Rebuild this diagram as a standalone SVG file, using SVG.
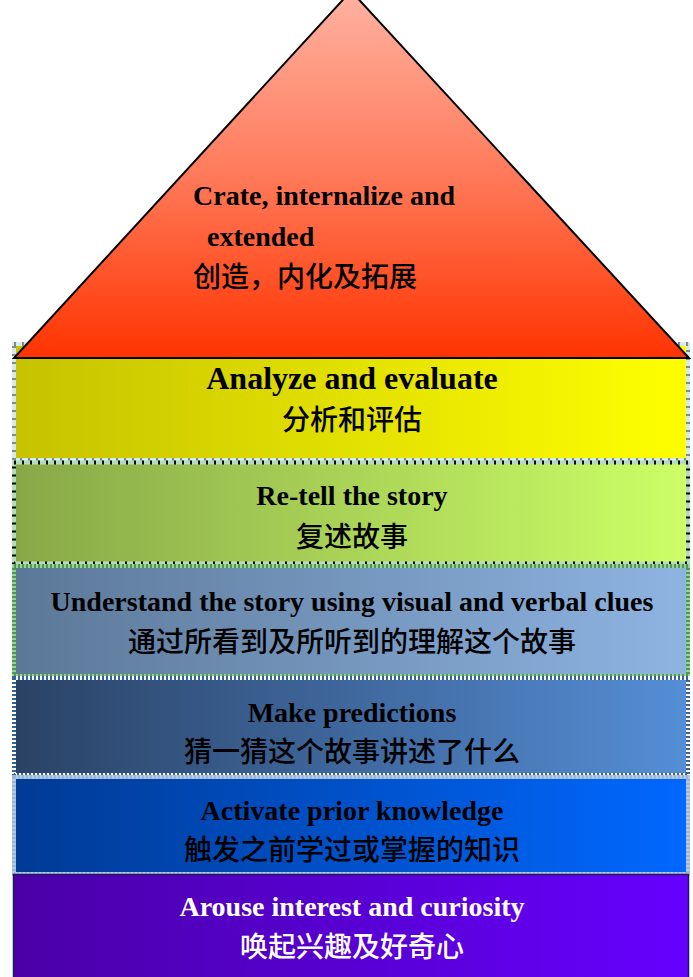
<svg xmlns="http://www.w3.org/2000/svg" width="693" height="977" viewBox="0 0 693 977">
<defs>
<linearGradient id="gTri" x1="0" y1="0" x2="0" y2="1">
<stop offset="0" stop-color="#FFB2A2"/>
<stop offset="0.5" stop-color="#FF7A5A"/>
<stop offset="1" stop-color="#FF3300"/>
</linearGradient>
<linearGradient id="g1" x1="0" y1="0" x2="1" y2="0"><stop offset="0" stop-color="#C6C200"/><stop offset="1" stop-color="#FFFF00"/></linearGradient>
<linearGradient id="g2" x1="0" y1="0" x2="1" y2="0"><stop offset="0" stop-color="#88A848"/><stop offset="1" stop-color="#CCFF66"/></linearGradient>
<linearGradient id="g3" x1="0" y1="0" x2="1" y2="0"><stop offset="0" stop-color="#5C7898"/><stop offset="1" stop-color="#8EB4E2"/></linearGradient>
<linearGradient id="g4" x1="0" y1="0" x2="1" y2="0"><stop offset="0" stop-color="#2A4265"/><stop offset="1" stop-color="#558ED6"/></linearGradient>
<linearGradient id="g5" x1="0" y1="0" x2="1" y2="0"><stop offset="0" stop-color="#003A94"/><stop offset="1" stop-color="#0068FF"/></linearGradient>
<linearGradient id="g6" x1="0" y1="0" x2="1" y2="0"><stop offset="0" stop-color="#4A00A6"/><stop offset="1" stop-color="#6600FF"/></linearGradient>
</defs>
<style>
.en{font-family:"Liberation Serif","Times New Roman",serif;font-weight:bold;font-size:28px;fill:#000;}
.zh{font-family:"Noto Sans CJK SC","Noto Sans",sans-serif;font-weight:500;font-size:28px;fill:#000;}
.c{text-anchor:middle;}
.w{fill:#fff;}
</style>

<g id="band1">
<rect x="14" y="344" width="674" height="116" fill="url(#g1)" stroke="#D4ECEC" stroke-width="4"/>
<rect x="14" y="344" width="674" height="116" fill="none" stroke="#888" stroke-width="4" stroke-dasharray="2 6"/>
<text class="en c" x="352" y="389" style="font-size:32px">Analyze and evaluate</text>
<text class="zh c" x="352" y="430">分析和评估</text>
</g>

<g id="band2">
<rect x="14" y="462.5" width="674" height="101" fill="url(#g2)" stroke="#B4DEB8" stroke-width="4"/>
<rect x="14" y="462.5" width="674" height="101" fill="none" stroke="#000" stroke-width="4" stroke-dasharray="2 6"/>
<text class="en c" x="352" y="505">Re-tell the story</text>
<text class="zh c" x="352" y="547">复述故事</text>
</g>

<g id="band3">
<rect x="14" y="566" width="674" height="110" fill="url(#g3)" stroke="#9CCF9C" stroke-width="4"/>
<rect x="14" y="566" width="674" height="110" fill="none" stroke="#4C9A50" stroke-width="4" stroke-dasharray="2 2"/>
<text class="en c" x="352" y="611">Understand the story using visual and verbal clues</text>
<text class="zh c" x="352" y="652">通过所看到及所听到的理解这个故事</text>
</g>

<g id="band4">
<rect x="14" y="678" width="674" height="97" fill="url(#g4)" stroke="#FFFFFF" stroke-width="4"/>
<rect x="14" y="678" width="674" height="97" fill="none" stroke="#34649C" stroke-width="4" stroke-dasharray="2 2"/>
<text class="en c" x="352" y="722">Make predictions</text>
<text class="zh c" x="352" y="762">猜一猜这个故事讲述了什么</text>
</g>

<g id="band5">
<rect x="14" y="777" width="674" height="97" fill="url(#g5)" stroke="#B6CAE4" stroke-width="4"/>
<rect x="14" y="777" width="674" height="97" fill="none" stroke="#9CB4D8" stroke-width="4" stroke-dasharray="2 2"/>
<text class="en c" x="352" y="820">Activate prior knowledge</text>
<text class="zh c" x="352" y="860">触发之前学过或掌握的知识</text>
</g>

<g id="band6">
<rect x="13.5" y="874.5" width="675" height="110" fill="url(#g6)" stroke="#1C1A5C" stroke-width="1.5"/>
<text class="en c w" x="352" y="916">Arouse interest and curiosity</text>
<text class="zh c w" x="352" y="957">唤起兴趣及好奇心</text>
</g>

<g id="top">
<polygon points="351,-9 689,358 14,358" fill="url(#gTri)" stroke="#000" stroke-width="2" stroke-linejoin="miter"/>
<text class="en" x="193" y="205">Crate, internalize and</text>
<text class="en" x="207" y="246">extended</text>
<text class="zh" x="193" y="287">创造，内化及拓展</text>
</g>
</svg>
